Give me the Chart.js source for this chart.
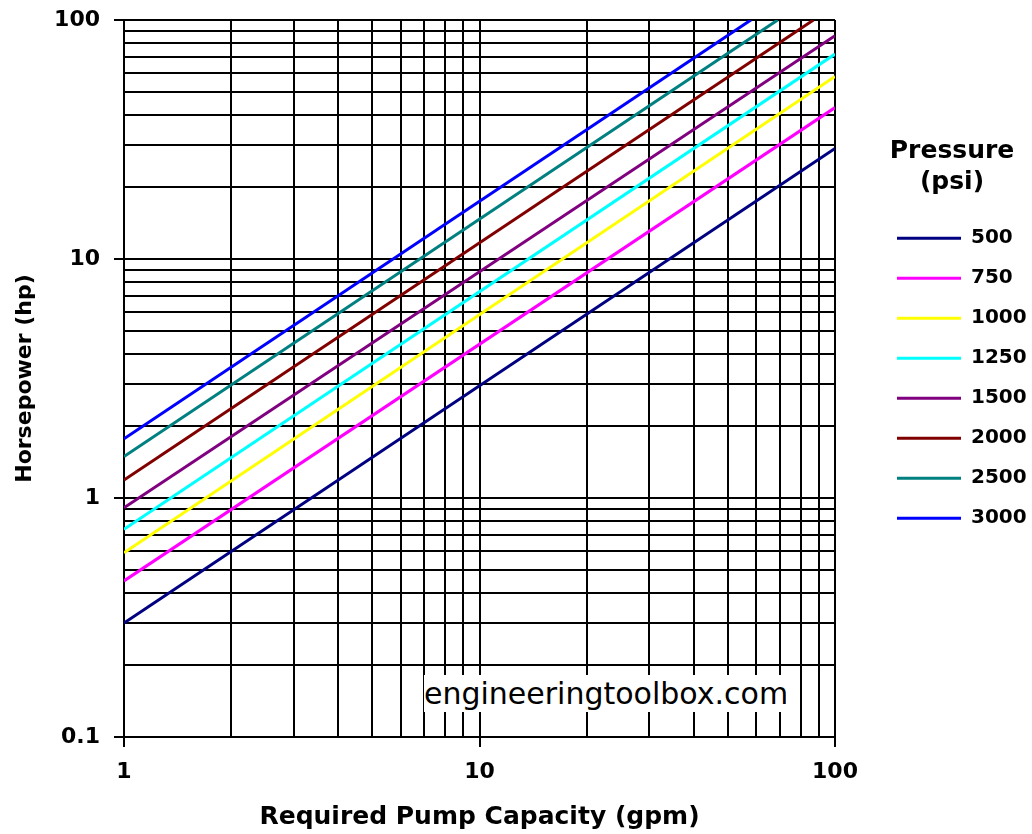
<!DOCTYPE html>
<html>
<head>
<meta charset="utf-8">
<script src="https://cdn.jsdelivr.net/npm/chart.js@4/dist/chart.umd.min.js"></script>
<style>
  body { margin: 0; background: #fff; }
  #wrap { position: relative; width: 1032px; height: 834px; }
  #watermark {
    position: absolute; left: 424px; top: 675px; width: 362px; height: 37px;
    background: #fff; font-family: 'DejaVu Sans', sans-serif; font-size: 30px;
    line-height: 37px; color: #000; white-space: nowrap; overflow: hidden;
  }
</style>
</head>
<body>
<div id="wrap">
  <canvas id="chart" width="1032" height="834"></canvas>
  <div id="watermark">engineeringtoolbox.com</div>
</div>
<script>
// Pump horsepower vs capacity, one straight line per pressure (log-log)
const pressures = ['500', '750', '1000', '1250', '1500', '2000', '2500', '3000'];
const colors = ['#000080', '#ff00ff', '#ffff00', '#00ffff', '#800080', '#800000', '#008080', '#0000ff'];

// values: start at 1 gpm, end at right edge or top edge
const startGpm = [1, 1, 1, 1, 1, 1, 1, 1];
const startHp = [0.30, 0.45, 0.59, 0.74, 0.91, 1.19, 1.49, 1.77];
const endGpm = [100, 100, 100, 100, 100, 87, 69, 58];
const endHp = [29, 43, 58, 72, 86, 100, 100, 100];

// grid lines and labelled ticks
const xGrid = [1, 2, 3, 4, 5, 6, 7, 8, 9, 10, 20, 30, 40, 50, 60, 70, 80, 90, 100];
const yGrid = [0.1, 0.2, 0.3, 0.4, 0.5, 0.6, 0.7, 0.8, 0.9, 1, 2, 3, 4, 5, 6, 7, 8, 9,
               10, 20, 30, 40, 50, 60, 70, 80, 90, 100];
const xLabelValues = [1, 10, 100];
const xTickLabels = ['1', '10', '100'];
const yLabelValues = [0.1, 1, 10, 100];
const yTickLabels = ['0.1', '1', '10', '100'];

Chart.defaults.font.family = "'DejaVu Sans', sans-serif";
Chart.defaults.font.weight = 'bold';
Chart.defaults.color = '#000';

const datasets = pressures.map((p, i) => ({
    label: p,
    data: [
        { x: startGpm[i], y: startHp[i] },
        { x: endGpm[i], y: endHp[i] }
    ],
    borderColor: colors[i],
    backgroundColor: colors[i],
    borderWidth: 3,
    pointRadius: 0,
    tension: 0
}));

function setTicks(values) {
    return (scale) => {
        scale.ticks = values.map(v => ({ value: v }));
    };
}

function labelFor(values, labels) {
    return (value) => {
        const i = values.indexOf(value);
        return i >= 0 ? labels[i] : '';
    };
}

new Chart(document.getElementById('chart'), {
    type: 'line',
    data: { datasets },
    options: {
        responsive: false,
        animation: false,
        devicePixelRatio: 1,
        layout: { padding: { top: 20, right: 5, left: 0, bottom: 0 } },
        plugins: {
            tooltip: { enabled: false },
            legend: {
                position: 'right',
                align: 'start',
                fullSize: false,
                maxWidth: 150,
                title: {
                    display: true,
                    text: ['Pressure', '(psi)'],
                    color: '#000',
                    font: { size: 25, weight: 'bold', lineHeight: 1.25 },
                    padding: { top: 119, bottom: 38 }
                },
                labels: {
                    usePointStyle: true,
                    pointStyle: 'line',
                    pointStyleWidth: 64,
                    padding: 20,
                    color: '#000',
                    font: { size: 20, weight: 'bold' }
                }
            }
        },
        scales: {
            x: {
                type: 'logarithmic',
                min: 1,
                max: 100,
                afterBuildTicks: setTicks(xGrid),
                afterFit: (s) => { s.height = 97; },
                grid: {
                    color: '#000',
                    lineWidth: 2,
                    tickLength: 10,
                    tickColor: (ctx) => xLabelValues.includes(ctx.tick && ctx.tick.value) ? '#000' : 'rgba(0,0,0,0)'
                },
                border: { color: '#000', width: 2 },
                ticks: {
                    autoSkip: false,
                    maxRotation: 0,
                    padding: 12,
                    color: '#000',
                    font: { size: 22, weight: 'bold' },
                    callback: labelFor(xLabelValues, xTickLabels)
                },
                title: {
                    display: true,
                    text: 'Required Pump Capacity (gpm)',
                    color: '#000',
                    font: { size: 25, weight: 'bold' },
                    padding: { top: 0, bottom: 2 }
                }
            },
            y: {
                type: 'logarithmic',
                min: 0.1,
                max: 100,
                afterBuildTicks: setTicks(yGrid),
                afterFit: (s) => {
                    s.width = 124;
                    // let the plot reach the top padding, the "100" label may overhang
                    s.paddingTop = 0;
                    s.paddingBottom = 0;
                },
                grid: {
                    color: '#000',
                    lineWidth: 2,
                    tickLength: 10,
                    tickColor: (ctx) => yLabelValues.includes(ctx.tick && ctx.tick.value) ? '#000' : 'rgba(0,0,0,0)'
                },
                border: { color: '#000', width: 2 },
                ticks: {
                    autoSkip: false,
                    padding: 14,
                    color: '#000',
                    font: { size: 22, weight: 'bold' },
                    callback: labelFor(yLabelValues, yTickLabels)
                },
                title: {
                    display: true,
                    text: 'Horsepower (hp)',
                    color: '#000',
                    font: { size: 22, weight: 'bold' },
                    padding: { top: 12, bottom: 0 }
                }
            },
            // empty axis that keeps the gap between plot and legend
            gap: {
                type: 'linear',
                position: 'right',
                display: true,
                afterFit: (s) => { s.width = 42; },
                grid: { display: false },
                border: { display: false },
                ticks: { display: false }
            }
        }
    }
});
</script>
</body>
</html>
